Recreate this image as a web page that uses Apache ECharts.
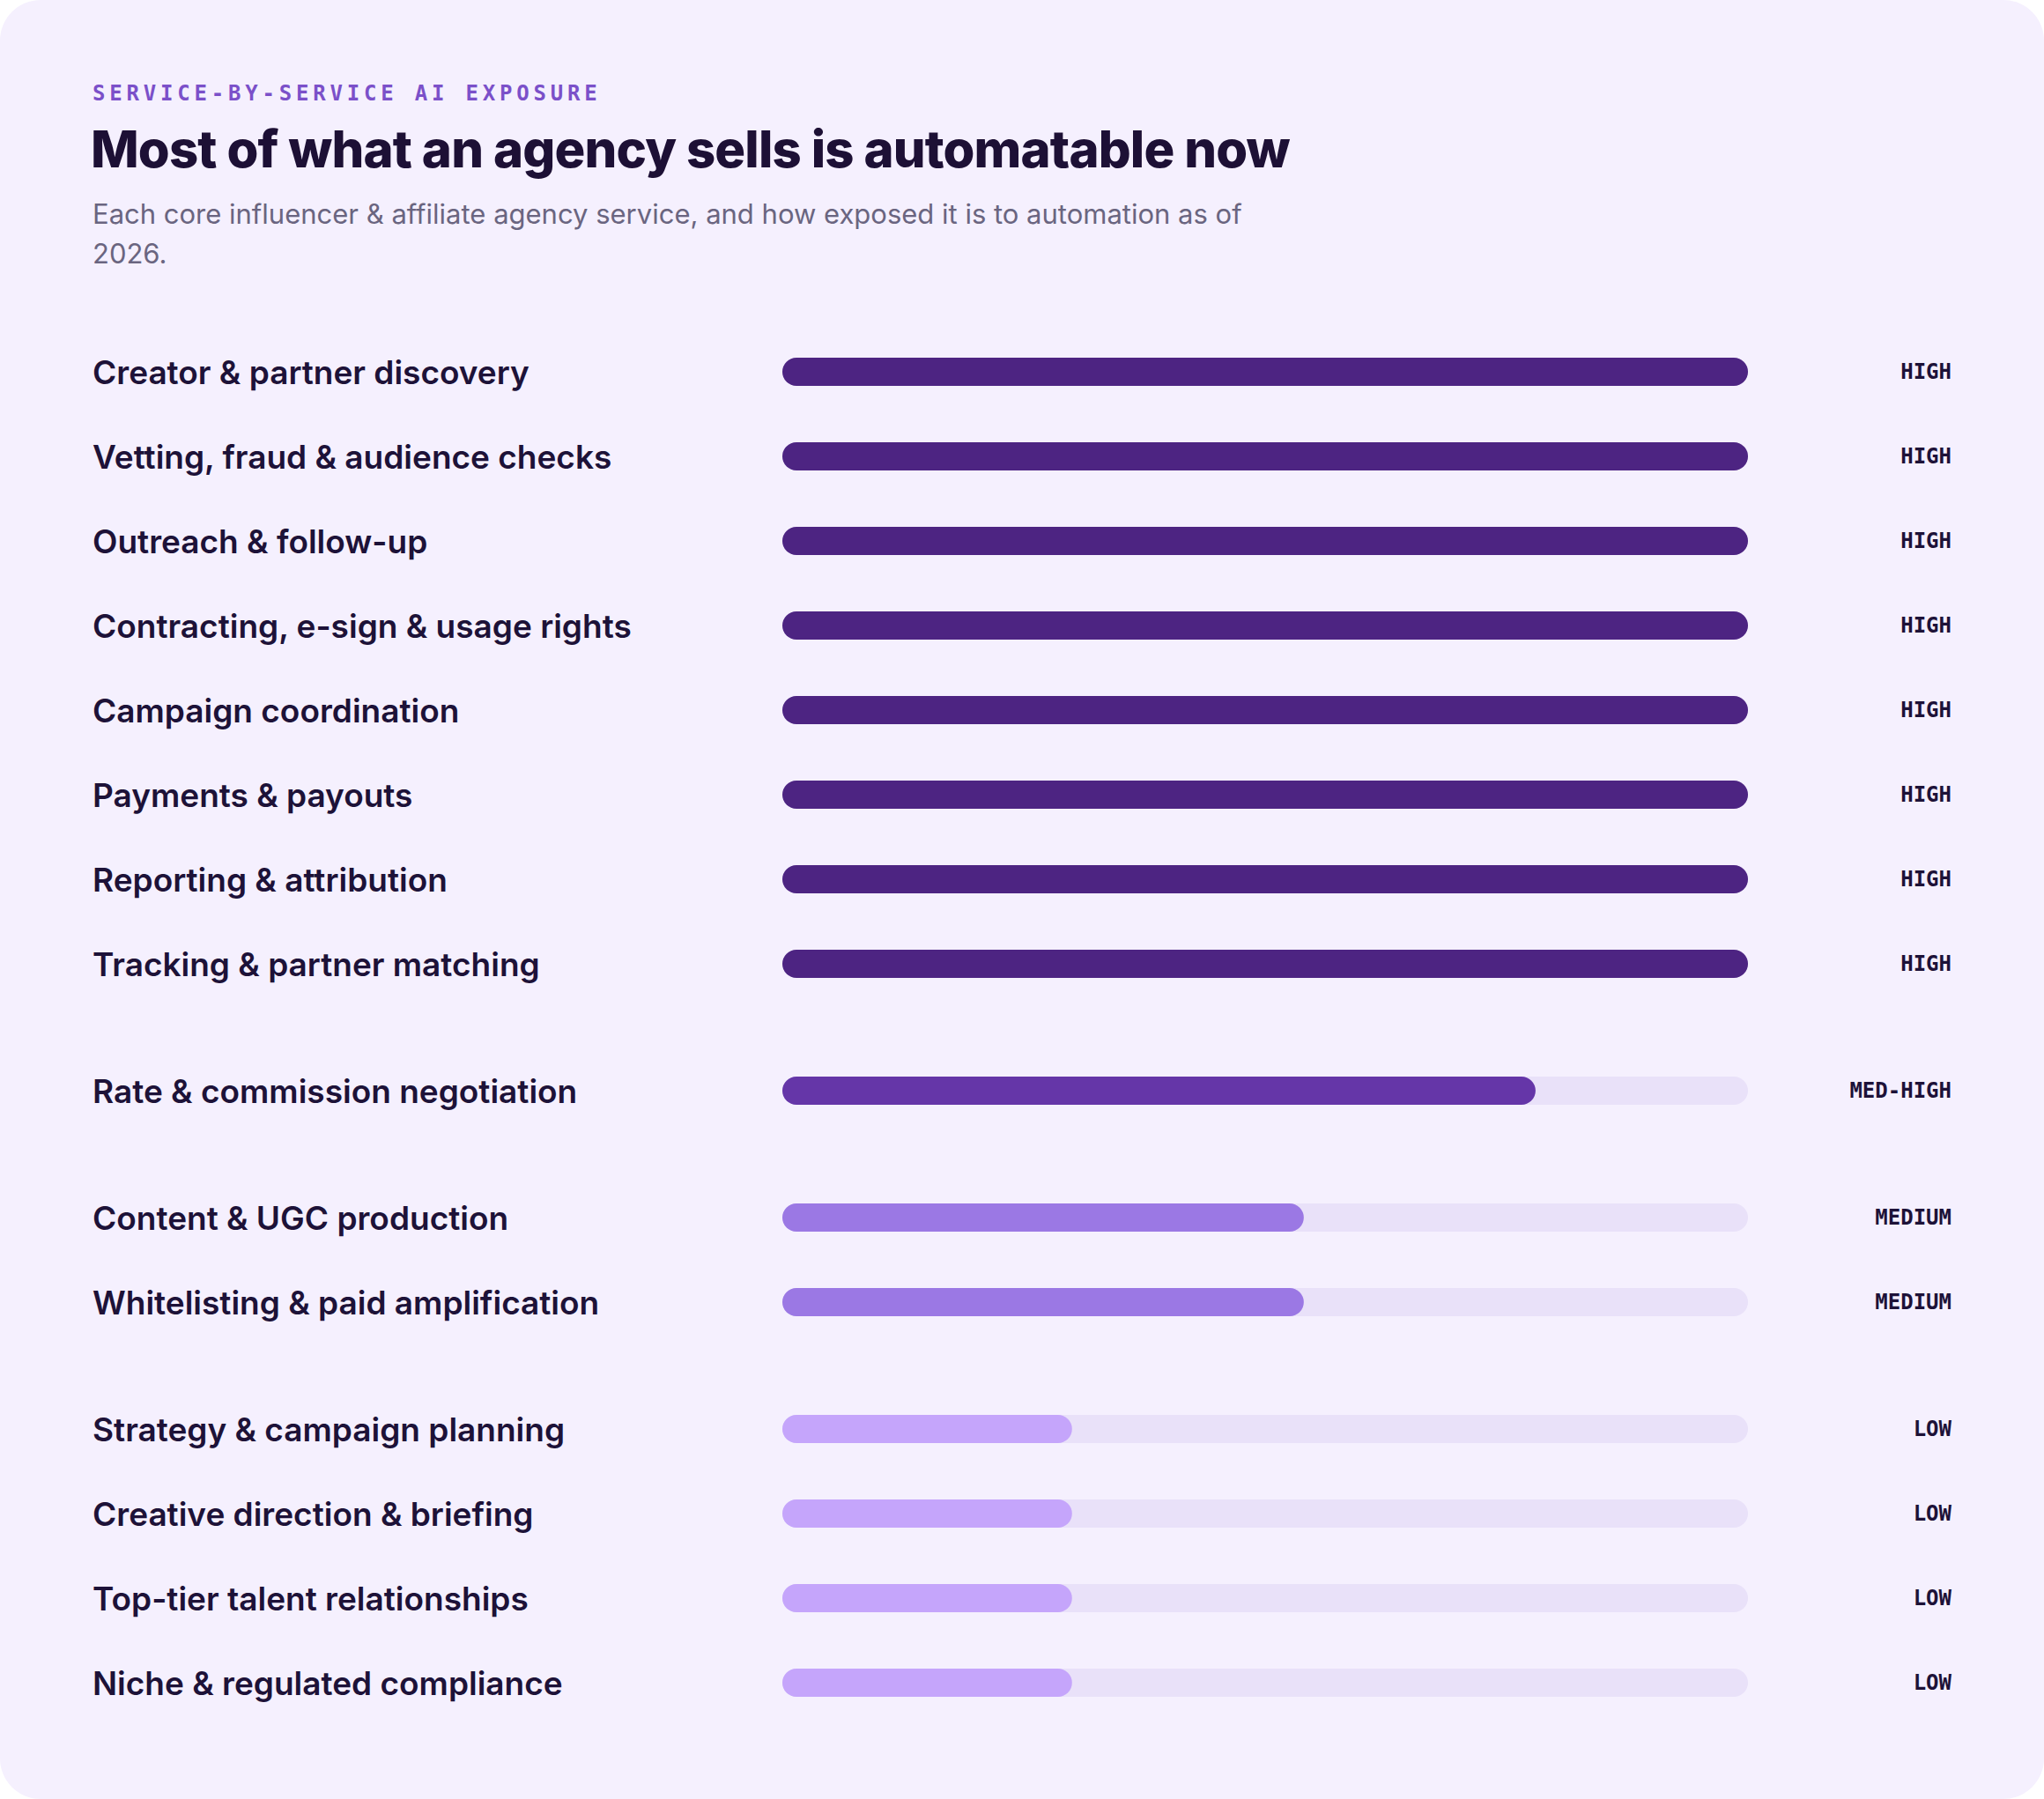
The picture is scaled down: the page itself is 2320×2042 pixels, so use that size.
<!DOCTYPE html>
<html><head><meta charset="utf-8">
<script src="https://cdn.jsdelivr.net/npm/echarts@6/dist/echarts.min.js"></script>
<style>
html,body{margin:0;padding:0;background:#ffffff;}
#chart{width:2320px;height:2042px;background:#f5f0fe;border-radius:46px;overflow:hidden;}
#chart text[fill="#7b50c9"], #chart text[fill="rgb(123,80,201)"]{letter-spacing:4.8px;}
#chart text[fill="#1d1035"], #chart text[fill="rgb(29,16,53)"]{letter-spacing:-0.85px;}
</style></head>
<body><div id="chart"></div>
<script>
const eyebrow = 'SERVICE-BY-SERVICE AI EXPOSURE';
const headline = 'Most of what an agency sells is automatable now';
const subtitle = 'Each core influencer & affiliate agency service, and how exposed it is to automation as of\n2026.';

const services = [
  'Creator & partner discovery',
  'Vetting, fraud & audience checks',
  'Outreach & follow-up',
  'Contracting, e-sign & usage rights',
  'Campaign coordination',
  'Payments & payouts',
  'Reporting & attribution',
  'Tracking & partner matching',
  'Rate & commission negotiation',
  'Content & UGC production',
  'Whitelisting & paid amplification',
  'Strategy & campaign planning',
  'Creative direction & briefing',
  'Top-tier talent relationships',
  'Niche & regulated compliance'
];
const levels = ['HIGH','HIGH','HIGH','HIGH','HIGH','HIGH','HIGH','HIGH',
  'MED-HIGH','MEDIUM','MEDIUM','LOW','LOW','LOW','LOW'];
const scores = [100,100,100,100,100,100,100,100,78,54,54,30,30,30,30];
const levelOrder = ['HIGH','MED-HIGH','MEDIUM','LOW'];
const levelColors = {'HIGH':'#4d2482','MED-HIGH':'#6536a8','MEDIUM':'#9b78e4','LOW':'#c5a5fb'};
const scaleMax = 100;

const rowH = 96, gapH = 48, firstTop = 374;
const grids = [], xAxes = [], yAxes = [], series = [];
let cursor = firstTop;
levelOrder.forEach((lv, gi) => {
  const idx = services.map((s,i)=>i).filter(i => levels[i] === lv);
  const h = idx.length * rowH;
  grids.push({left: 888, width: 1096, top: cursor, height: h});
  cursor += h + gapH;
  xAxes.push({gridIndex: gi, type:'value', min:0, max:scaleMax, show:false});
  yAxes.push({gridIndex: gi, type:'category', inverse:true, position:'left',
    data: idx.map(i => services[i]),
    axisLine:{show:false}, axisTick:{show:false}, splitLine:{show:false},
    axisLabel:{align:'left', margin:783, fontFamily:'Inter', fontWeight:600, fontSize:37, color:'#1d1238', padding:[2,0,0,0]}});
  yAxes.push({gridIndex: gi, type:'category', inverse:true, position:'right',
    data: idx.map(i => levels[i]),
    axisLine:{show:false}, axisTick:{show:false}, splitLine:{show:false},
    axisLabel:{align:'right', margin:231, fontFamily:'DejaVu Sans Mono', fontWeight:'bold', fontSize:24, color:'#1d1238', padding:[5,0,0,0]}});
  series.push({type:'bar', xAxisIndex: gi, yAxisIndex: gi*2, barWidth:32, barGap:'-100%', silent:true,
    data: idx.map(() => scaleMax), itemStyle:{color:'#e9e1f9', borderRadius:16}, z:1});
  series.push({type:'bar', xAxisIndex: gi, yAxisIndex: gi*2, barWidth:32, barGap:'-100%',
    data: idx.map(i => scores[i]), itemStyle:{color: levelColors[lv], borderRadius:16}, z:2});
});

const chart = echarts.init(document.getElementById('chart'), null, {renderer:'svg'});
chart.setOption({
  backgroundColor:'transparent',
  animation:false,
  grid: grids, xAxis: xAxes, yAxis: yAxes, series: series,
  graphic: [
    {type:'text', left:105, top:94, style:{text: eyebrow, font:'bold 24px "DejaVu Sans Mono"', fill:'#7b50c9'}},
    {type:'text', left:103, top:140, style:{text: headline, font:'800 58px Inter', fill:'#1d1035'}},
    {type:'text', left:105, top:220, style:{text: subtitle, font:'400 31px Inter', fill:'#6a6580', lineHeight:45}}
  ]
});
</script></body></html>
